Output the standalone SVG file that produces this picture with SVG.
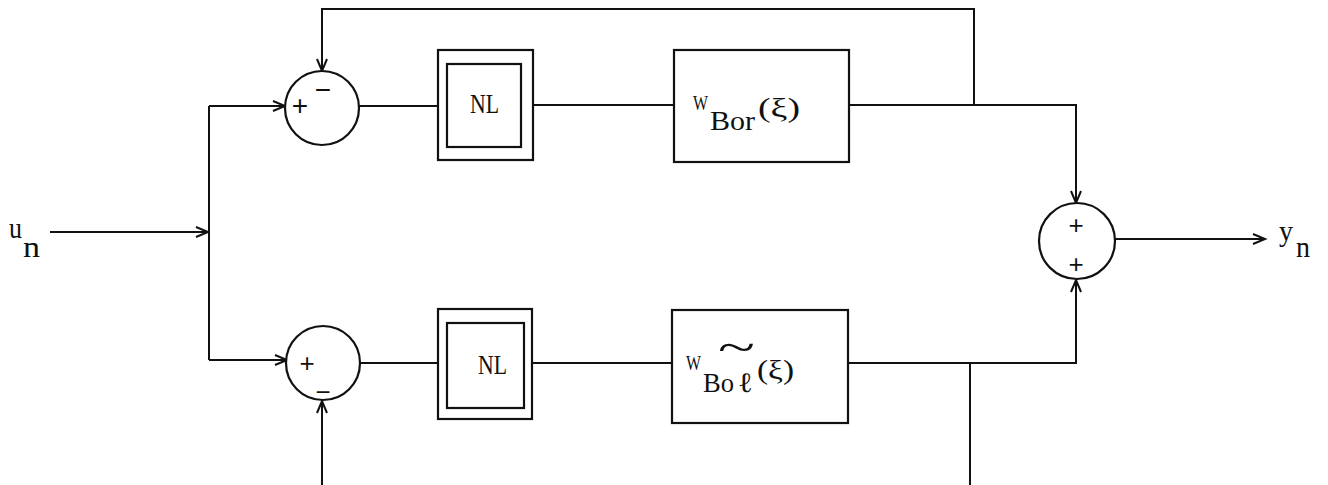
<svg xmlns="http://www.w3.org/2000/svg" width="1328" height="485" viewBox="0 0 1328 485">
<style>
.ln{fill:none;stroke:#111;stroke-width:2}
.bx{fill:#fff;stroke:#111;stroke-width:2.2}
.sm{fill:#fff;stroke:#111;stroke-width:2.2}
.t{font-family:"Liberation Serif","Times New Roman",serif;fill:#111}
.sg{font-family:"Liberation Sans",Arial,sans-serif;fill:#111;text-anchor:middle}
</style>
<defs>
<marker id="ar" markerUnits="userSpaceOnUse" markerWidth="16" markerHeight="14" refX="13" refY="6" orient="auto" viewBox="0 0 16 12">
<path d="M1,1 L13,6 L1,11" fill="none" stroke="#111" stroke-width="2"/>
</marker>
</defs>
<rect width="1328" height="485" fill="#fff"/>
<g id="connectors">
<path class="ln" d="M50,232 L208,232" marker-end="url(#ar)"/>
<path class="ln" d="M209,106 L209,360"/>
<path class="ln" d="M209,106 L285,106" marker-end="url(#ar)"/>
<path class="ln" d="M209,360 L287,360" marker-end="url(#ar)"/>
<path class="ln" d="M359,106 L438,106"/>
<path class="ln" d="M533,105 L674,105"/>
<path class="ln" d="M849,105 L1076,105 L1076,203" marker-end="url(#ar)"/>
<path class="ln" d="M974,105 L974,9 L322,9 L322,71" marker-end="url(#ar)"/>
<path class="ln" d="M360,363 L438,363"/>
<path class="ln" d="M532,363 L672,363"/>
<path class="ln" d="M848,363 L1076,363 L1076,280" marker-end="url(#ar)"/>
<path class="ln" d="M970,363 L970,485"/>
<path class="ln" d="M322,485 L322,401" marker-end="url(#ar)"/>
<path class="ln" d="M1115,239 L1265,239" marker-end="url(#ar)"/>
</g>
<g id="input">
<text class="t" x="9" y="238" font-size="29" textLength="13" lengthAdjust="spacingAndGlyphs">u</text>
<text class="t" x="23" y="257" font-size="29" textLength="17" lengthAdjust="spacingAndGlyphs">n</text>
</g>
<g id="sum1">
<circle class="sm" cx="322" cy="108" r="37"/>
<text class="sg" x="300" y="115" font-size="28">+</text>
<text class="sg" x="323" y="99" font-size="28">−</text>
</g>
<g id="sum2">
<circle class="sm" cx="323" cy="363" r="37"/>
<text class="sg" x="307" y="372" font-size="26">+</text>
<text class="sg" x="323" y="401" font-size="26">−</text>
</g>
<g id="nl1">
<rect class="bx" x="438" y="50" width="95" height="110"/>
<rect class="bx" x="447" y="64" width="74" height="83"/>
<text class="t" x="470" y="113" font-size="28" textLength="29" lengthAdjust="spacingAndGlyphs">NL</text>
</g>
<g id="nl2">
<rect class="bx" x="438" y="309" width="94" height="110"/>
<rect class="bx" x="447" y="323" width="77" height="85"/>
<text class="t" x="478" y="374" font-size="28" textLength="29" lengthAdjust="spacingAndGlyphs">NL</text>
</g>
<g id="w1">
<rect class="bx" x="674" y="50" width="175" height="112"/>
<text class="t" x="693" y="110" font-size="22" textLength="15" lengthAdjust="spacingAndGlyphs">W</text>
<text class="t" x="710" y="130" font-size="28" textLength="45" lengthAdjust="spacingAndGlyphs">Bor</text>
<text class="t" x="758" y="117" font-size="27" textLength="42" lengthAdjust="spacingAndGlyphs">(ξ)</text>
</g>
<g id="w2">
<rect class="bx" x="672" y="310" width="176" height="113"/>
<text class="t" x="686" y="370" font-size="22" textLength="15" lengthAdjust="spacingAndGlyphs">W</text>
<text class="t" x="703" y="392" font-size="28" textLength="31" lengthAdjust="spacingAndGlyphs">Bo</text>
<text class="t" x="738" y="392" font-size="28" textLength="15" lengthAdjust="spacingAndGlyphs">ℓ</text>
<text class="t" x="718" y="362" font-size="44" textLength="37" lengthAdjust="spacingAndGlyphs">~</text>
<text class="t" x="757" y="379" font-size="27" textLength="37" lengthAdjust="spacingAndGlyphs">(ξ)</text>
</g>
<g id="sum3">
<circle class="sm" cx="1077" cy="241" r="38"/>
<text class="sg" x="1076" y="234" font-size="26">+</text>
<text class="sg" x="1076" y="273" font-size="26">+</text>
</g>
<g id="output">
<text class="t" x="1279" y="241" font-size="29" textLength="14" lengthAdjust="spacingAndGlyphs">y</text>
<text class="t" x="1296" y="257" font-size="29" textLength="14" lengthAdjust="spacingAndGlyphs">n</text>
</g>
</svg>
